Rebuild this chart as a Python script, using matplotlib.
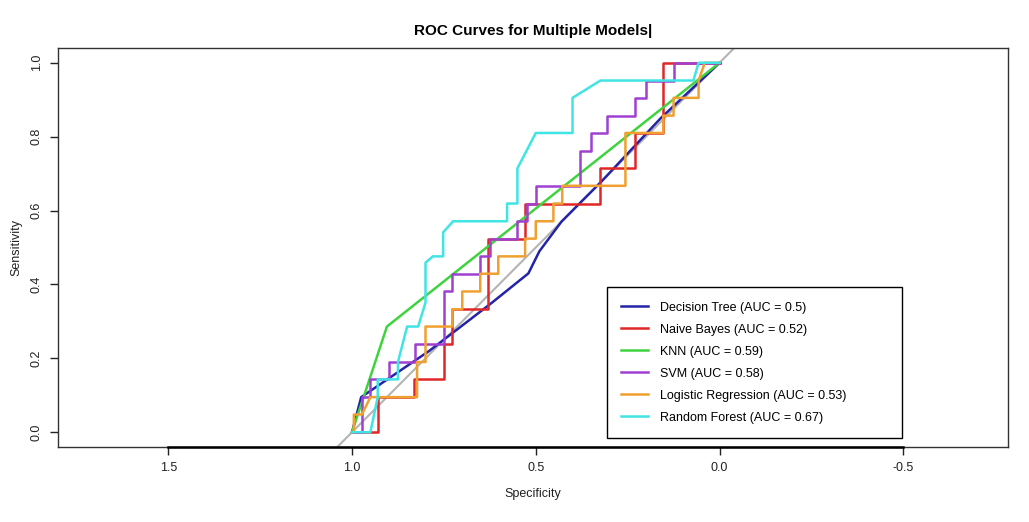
import matplotlib.pyplot as plt

plt.rcParams['font.family'] = ['Liberation Sans', 'DejaVu Sans']

# models, AUC and colours as in the legend
model_names = ['Decision Tree', 'Naive Bayes', 'KNN', 'SVM',
               'Logistic Regression', 'Random Forest']
model_auc = ['0.5', '0.52', '0.59', '0.58', '0.53', '0.67']
model_colors = ['#2424a8', '#e02626', '#3fd43f', '#a040d0', '#f0a030', '#40e4e4']

# ROC points (specificity, sensitivity)
dt_spec = [1.0, 0.975, 0.79, 0.62, 0.52, 0.49, 0.43, 0.32, 0.16, 0.0]
dt_sens = [0.0, 0.095, 0.22, 0.35, 0.43, 0.49, 0.57, 0.68, 0.85, 1.0]

nb_spec = [1.0, 0.93, 0.93, 0.83, 0.83, 0.75, 0.75, 0.727, 0.727, 0.629, 0.629,
           0.529, 0.529, 0.324, 0.324, 0.229, 0.229, 0.153, 0.153, 0.0]
nb_sens = [0.0, 0.0, 0.095, 0.095, 0.143, 0.143, 0.238, 0.238, 0.333, 0.333, 0.524,
           0.524, 0.619, 0.619, 0.714, 0.714, 0.81, 0.81, 1.0, 1.0]

knn_spec = [1.0, 0.905, 0.0]
knn_sens = [0.0, 0.286, 1.0]

svm_spec = [1.0, 0.973, 0.973, 0.95, 0.95, 0.90, 0.90, 0.85, 0.85, 0.828, 0.828,
            0.75, 0.75, 0.727, 0.727, 0.651, 0.651, 0.624, 0.624, 0.55, 0.55,
            0.523, 0.523, 0.50, 0.50, 0.38, 0.38, 0.35, 0.35, 0.305, 0.305,
            0.23, 0.23, 0.20, 0.20, 0.125, 0.125, 0.0]
svm_sens = [0.0, 0.0, 0.095, 0.095, 0.143, 0.143, 0.19, 0.19, 0.19, 0.19, 0.238,
            0.238, 0.381, 0.381, 0.429, 0.429, 0.476, 0.476, 0.524, 0.524, 0.571,
            0.571, 0.619, 0.619, 0.667, 0.667, 0.762, 0.762, 0.81, 0.81, 0.857,
            0.857, 0.905, 0.905, 0.952, 0.952, 1.0, 1.0]

lr_spec = [1.0, 0.995, 0.995, 0.973, 0.95, 0.924, 0.823, 0.823, 0.80, 0.80,
           0.727, 0.727, 0.70, 0.70, 0.651, 0.651, 0.602, 0.602, 0.529, 0.529,
           0.50, 0.50, 0.452, 0.452, 0.428, 0.428, 0.256, 0.256, 0.153, 0.153,
           0.125, 0.125, 0.057, 0.057, 0.04, 0.0]
lr_sens = [0.0, 0.0, 0.048, 0.048, 0.095, 0.095, 0.095, 0.19, 0.19, 0.286,
           0.286, 0.333, 0.333, 0.381, 0.381, 0.429, 0.429, 0.476, 0.476, 0.524,
           0.524, 0.571, 0.571, 0.619, 0.619, 0.667, 0.667, 0.81, 0.81, 0.857,
           0.857, 0.905, 0.905, 0.952, 1.0, 1.0]

rf_spec = [1.0, 0.95, 0.93, 0.93, 0.875, 0.875, 0.85, 0.82, 0.80, 0.80, 0.78,
           0.752, 0.752, 0.725, 0.578, 0.578, 0.55, 0.55, 0.50, 0.40, 0.40,
           0.324, 0.071, 0.057, 0.0]
rf_sens = [0.0, 0.0, 0.095, 0.143, 0.143, 0.19, 0.286, 0.286, 0.351, 0.459,
           0.476, 0.476, 0.541, 0.571, 0.571, 0.619, 0.619, 0.714, 0.81, 0.81,
           0.905, 0.952, 0.952, 1.0, 1.0]

curves = [(dt_spec, dt_sens), (nb_spec, nb_sens), (knn_spec, knn_sens),
          (svm_spec, svm_sens), (lr_spec, lr_sens), (rf_spec, rf_sens)]

fig = plt.figure(figsize=(10.29, 5.22), dpi=100)
ax = fig.add_axes([58 / 1029, 1 - 447 / 522, 950 / 1029, 399 / 522])

# chance line
ax.axline((1, 0), (0, 1), color='#b4b4b4', lw=1.5, zorder=1)

for (spec, sens), name, auc, col in zip(curves, model_names, model_auc, model_colors):
    ax.plot(spec, sens, color=col, lw=1.8, label=f'{name} (AUC = {auc})', zorder=2)

ax.set_xlim(1.80, -0.785)
ax.set_ylim(-0.04, 1.04)

ax.set_xticks([1.5, 1.0, 0.5, 0.0, -0.5])
ax.set_xticklabels(['1.5', '1.0', '0.5', '0.0', '-0.5'])
ax.set_yticks([0.0, 0.2, 0.4, 0.6, 0.8, 1.0])
ax.set_yticklabels(['0.0', '0.2', '0.4', '0.6', '0.8', '1.0'], rotation=90, va='center')
ax.tick_params(direction='out', length=6, width=1, labelsize=9, colors='#222222', pad=5)

for sp in ax.spines.values():
    sp.set_linewidth(1.0)
    sp.set_color('#333333')
# R style axis line under the box
ax.plot([1.5, -0.5], [0, 0], transform=ax.get_xaxis_transform(), color='black',
        lw=1.8, clip_on=False, zorder=5)

ax.set_xlabel('Specificity', fontsize=9, labelpad=10, color='#222222')
ax.set_ylabel('Sensitivity', fontsize=9, labelpad=6, color='#222222')
ax.set_title('ROC Curves for Multiple Models|', fontsize=11, fontweight='bold', pad=9)

leg = ax.legend(loc='lower left', bbox_to_anchor=(0.578, 0.0226, 0.31, 0.386),
                mode='expand', fontsize=9, fancybox=False, edgecolor='black',
                framealpha=1, borderpad=1.15, labelspacing=0.80, handlelength=2.1,
                handletextpad=0.95, borderaxespad=0)
leg.get_frame().set_linewidth(1.0)

fig.savefig('out.png', dpi=100)
